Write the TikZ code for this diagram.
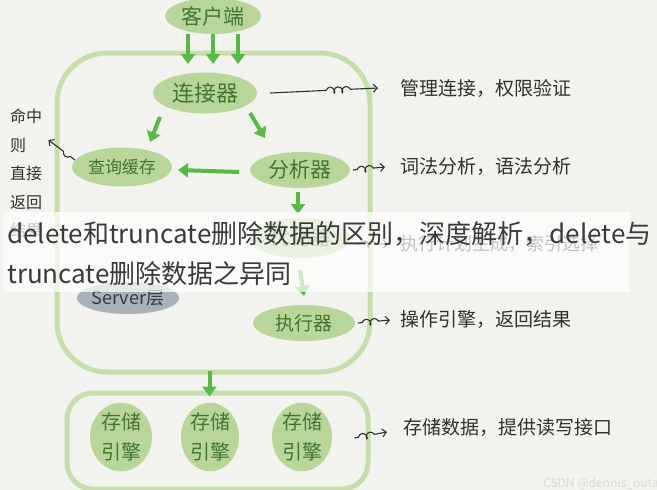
\documentclass[tikz,border=0pt]{standalone}
\usepackage{fontspec}
\setmainfont{Noto Sans CJK SC}
\usetikzlibrary{arrows.meta,decorations.pathmorphing,shapes.geometric}
\pgfdeclarelayer{background}
\pgfdeclarelayer{front}
\pgfsetlayers{background,main,front}
\definecolor{bgcol}{HTML}{F2F2EF}
\definecolor{nodefill}{HTML}{B9D69A}
\definecolor{boxline}{HTML}{C6DFAA}
\definecolor{garrow}{HTML}{5AB946}
\definecolor{gtext}{HTML}{44762E}
\definecolor{ink}{HTML}{2E332E}
\definecolor{srvfill}{HTML}{A9B2BB}
\definecolor{srvtext}{HTML}{2F3B49}
\definecolor{ovtext}{HTML}{3A3A3A}
\definecolor{wm}{HTML}{D9D9D6}
\begin{document}
\begin{tikzpicture}[x=1pt,y=-1pt,
  comp/.style={ellipse, fill=nodefill, draw=none, text=gtext, inner sep=0pt},
  fs/.style={font=\fontsize{#1}{#1}\selectfont},
  bigbox/.style={draw=boxline, line width=5pt, rectangle, inner sep=0pt},
  garr/.style={draw=garrow, line width=4pt, -{Triangle[length=10pt,width=14pt]}},
  inkarr/.style 2 args={draw=ink, line width=1.1pt, -{Straight Barb[length=4pt,width=8pt]},
     decorate, decoration={coil, aspect=0.7, segment length=8pt, amplitude=3pt, pre length=#1, post length=#2}},
  notetext/.style={text=ink, anchor=west, inner sep=0pt, font=\fontsize{19}{19}\selectfont}
]
\useasboundingbox (0,0) rectangle (657,490);

% component nodes
\node[comp, minimum width=96pt, minimum height=36pt, fs=21] (client) at (213,16) {客户端};
\node[comp, minimum width=104pt, minimum height=41pt, fs=22] (conn) at (205,93) {连接器};
\node[comp, minimum width=100pt, minimum height=39pt, fs=17] (cache) at (122,167) {查询缓存};
\node[comp, minimum width=100pt, minimum height=36pt, fs=21] (parser) at (300,170) {分析器};
\node[comp, minimum width=100pt, minimum height=40pt, fs=20] (opt) at (300,238) {优化器};
\node[comp, minimum width=102pt, minimum height=36pt, fs=19] (exec) at (304,323) {执行器};
\node[ellipse, fill=srvfill, text=srvtext, inner sep=0pt, minimum width=100pt, minimum height=32pt, fs=18] (server) at (128,298) {Server层};

\node[comp, minimum width=62pt, minimum height=68pt, align=center, font=\fontsize{20}{30}\selectfont] (se1) at (121,437) {存储\\引擎};
\node[comp, minimum width=58pt, minimum height=68pt, align=center, font=\fontsize{20}{30}\selectfont] (se2) at (210,437) {存储\\引擎};
\node[comp, minimum width=60pt, minimum height=68pt, align=center, font=\fontsize{20}{30}\selectfont] (se3) at (302,437) {存储\\引擎};

% annotation texts
\node[notetext] (n1) at (400,88) {管理连接，权限验证};
\node[notetext] (n2) at (400,167) {词法分析，语法分析};
\node[notetext, font=\fontsize{18}{18}\selectfont] (n3) at (400,244) {执行计划生成，索引选择};
\node[notetext] (n4) at (400,320) {操作引擎，返回结果};
\node[notetext] (n5) at (403,428) {存储数据，提供读写接口};
\node[text=ink, anchor=north west, inner sep=0pt, align=left, font=\fontsize{16}{28.5}\selectfont] (hit) at (10,109) {命中\\则\\直接\\返回\\结果};

\coordinate (ca1) at (188,64);
\coordinate (ca2) at (213,64);
\coordinate (ca3) at (238,64);

\begin{pgfonlayer}{background}
\fill[bgcol] (0,0) rectangle (657,490);
\node[bigbox, rounded corners=50pt, minimum width=313pt, minimum height=319pt] (serverbox) at (213.5,212.5) {};
\node[bigbox, rounded corners=26pt, minimum width=301pt, minimum height=96pt] (storebox) at (217.5,441) {};

% green flow arrows
\draw[garr] (client.south -| ca1) -- (ca1);
\draw[garr] (client.south -| ca2) -- (ca2);
\draw[garr] (client.south -| ca3) -- (ca3);
\draw[garr] ([shift={(-45,24)}]conn.center) -- ([shift={(28,-25)}]cache.center);
\draw[garr] ([shift={(45,20)}]conn.center) -- ([shift={(-35,-32)}]parser.center);
\draw[garr] ([shift={(-61,2)}]parser.center) -- ([shift={(56,3)}]cache.center);
\draw[garr] ([shift={(-2,22)}]parser.center) -- ([shift={(-2,-24)}]opt.center);
\draw[garr] ([shift={(0,32)}]opt.center) -- ([shift={(0,-27)}]exec.center);
\draw[garr] ([shift={(-4,-4)}]serverbox.south) -- ([shift={(-8,6)}]storebox.north);

% ink arrows
\draw[inkarr={56pt}{26pt}] ([xshift=13pt]conn.east) -- ([xshift=-22pt]n1.west);
\draw[inkarr={4pt}{10pt}] ([xshift=3pt]parser.east) -- ([xshift=-15pt]n2.west);
\draw[inkarr={5pt}{10pt}] ([shift={(5,6)}]opt.east) -- ([xshift=-12pt]n3.west);
\draw[inkarr={4pt}{10pt}] ([xshift=3pt]exec.east) -- ([xshift=-10pt]n4.west);
\draw[inkarr={4pt}{11pt}] ([shift={(-16,-3)}]storebox.east) -- ([shift={(-16,4)}]n5.west);
\draw[inkarr={6pt}{14pt}] ([shift={(-47,-7)}]cache.center) -- ([shift={(6,31)}]hit.north east);
\end{pgfonlayer}

\begin{pgfonlayer}{front}
\fill[white, opacity=0.7] (3,212) rectangle (630,292);
\node[anchor=base west, inner sep=0pt, text=ovtext, font=\fontsize{26}{26}\selectfont] (ov1) at (7,243) {delete和truncate删除数据的区别，深度解析，delete与};
\node[anchor=base west, inner sep=0pt, text=ovtext, font=\fontsize{26}{26}\selectfont] (ov2) at (7,283) {truncate删除数据之异同};
\begin{scope}
\clip (0,0) rectangle (657,490);
\node[anchor=base west, inner sep=0pt, text=wm, font=\fontsize{12}{12}\selectfont] (wmk) at (543,487) {CSDN @dennis\_outar};
\end{scope}
\end{pgfonlayer}
\end{tikzpicture}
\end{document}
